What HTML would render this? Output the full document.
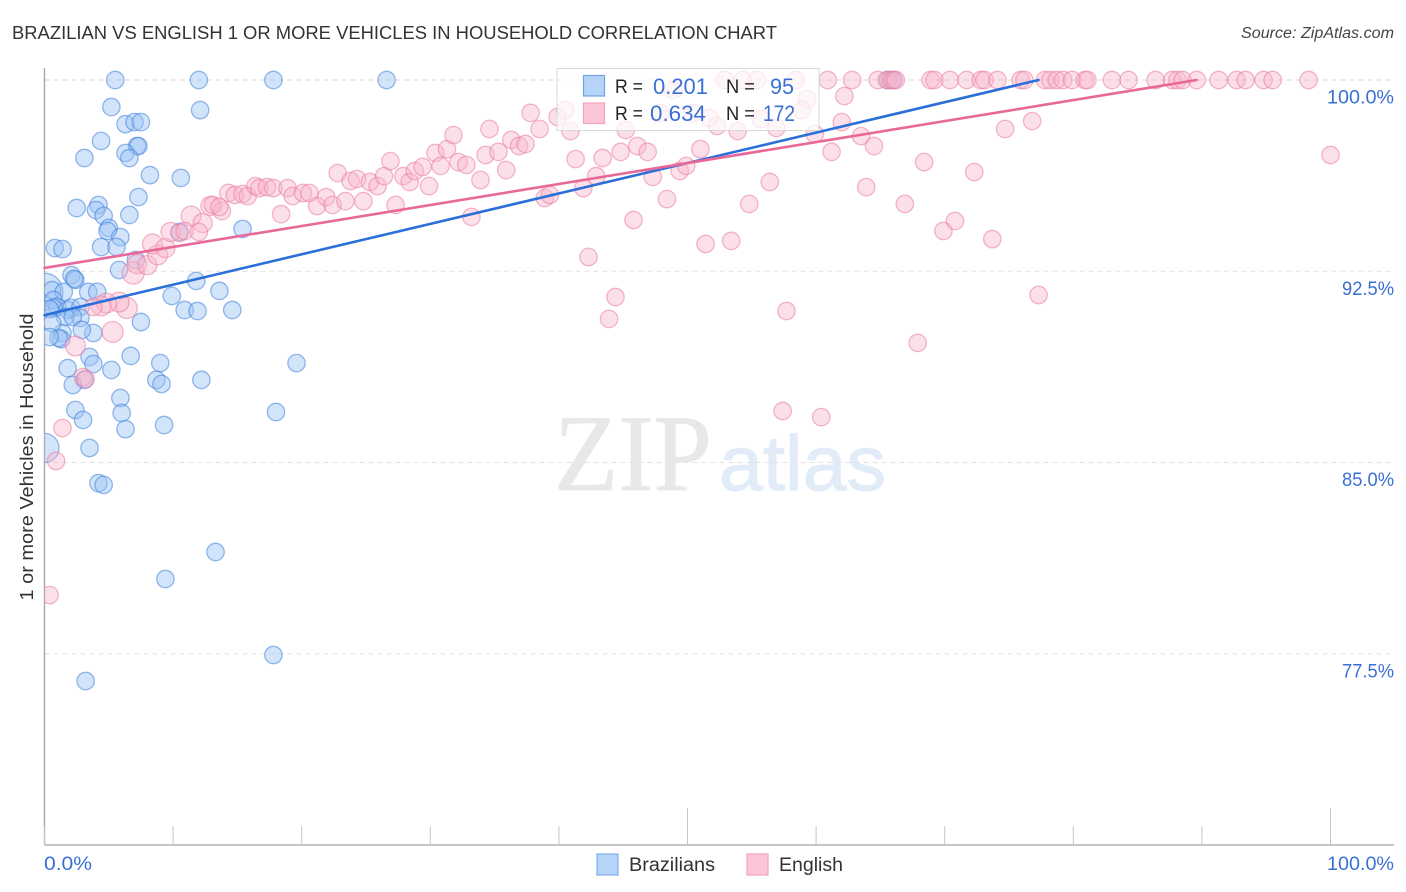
<!DOCTYPE html>
<html lang="en">
<head>
<meta charset="utf-8">
<title>Brazilian vs English 1 or More Vehicles in Household Correlation Chart</title>
<style>
html,body{margin:0;padding:0;background:#fff;}
#chart{display:block;width:1406px;height:892px;font-family:"Liberation Sans",sans-serif;}
</style>
</head>
<body>
<svg id="chart" width="1406" height="892" viewBox="0 0 1406 892" xmlns="http://www.w3.org/2000/svg">
  <defs>
    <clipPath id="plot-clip"><rect x="44.5" y="60" width="1362" height="785"/></clipPath>
  </defs>
  <rect x="0" y="0" width="1406" height="892" fill="#ffffff"/>
  <text x="12" y="39" font-size="18.5" fill="#333" textLength="765" lengthAdjust="spacingAndGlyphs">BRAZILIAN VS ENGLISH 1 OR MORE VEHICLES IN HOUSEHOLD CORRELATION CHART</text>
  <text x="1394" y="38" font-size="15.5" font-style="italic" fill="#444" text-anchor="end" textLength="153" lengthAdjust="spacingAndGlyphs">Source: ZipAtlas.com</text>

  <g>
    <text x="554" y="490" font-family="'Liberation Serif',serif" font-size="109" fill="#e8e8e8" stroke="#e8e8e8" stroke-width="0.8" textLength="158" lengthAdjust="spacingAndGlyphs">ZIP</text>
    <text x="719" y="490" font-size="78" fill="#e2ebf8" stroke="#e2ebf8" stroke-width="1" textLength="167" lengthAdjust="spacingAndGlyphs">atlas</text>
  </g>

  <g id="grid"></g>
  <g id="axes"></g>
  <g id="brazilian-points" clip-path="url(#plot-clip)"></g>
  <g id="english-points" clip-path="url(#plot-clip)"></g>
  <g id="trends"></g>

  <g>
    <rect x="557" y="68.5" width="262" height="62" fill="#ffffff" fill-opacity="0.72" stroke="#d8d8d8" stroke-width="1"/>
    <rect x="583.5" y="75.5" width="21" height="20.5" fill="#b6d3f8" stroke="#6fa2e6" stroke-width="1.2"/>
    <rect x="583.5" y="103" width="21" height="20.5" fill="#fcc6d8" stroke="#f2a3be" stroke-width="1.2"/>
    <text x="615" y="93" font-size="19" fill="#222" textLength="28" lengthAdjust="spacingAndGlyphs">R =</text>
    <text x="653" y="94" font-size="22" fill="#3a70d4" textLength="55" lengthAdjust="spacingAndGlyphs">0.201</text>
    <text x="726" y="93" font-size="19" fill="#222" textLength="29" lengthAdjust="spacingAndGlyphs">N =</text>
    <text x="770" y="94" font-size="22" fill="#3a70d4" textLength="24" lengthAdjust="spacingAndGlyphs">95</text>
    <text x="615" y="120" font-size="19" fill="#222" textLength="28" lengthAdjust="spacingAndGlyphs">R =</text>
    <text x="650" y="121" font-size="22" fill="#3a70d4" textLength="56" lengthAdjust="spacingAndGlyphs">0.634</text>
    <text x="726" y="120" font-size="19" fill="#222" textLength="29" lengthAdjust="spacingAndGlyphs">N =</text>
    <text x="763" y="121" font-size="22" fill="#3a70d4" textLength="32" lengthAdjust="spacingAndGlyphs">172</text>
  </g>

  <g>
    <g>
      <rect x="597" y="854" width="21" height="21" fill="#b6d3f8" stroke="#7fade8" stroke-width="1.2"/>
      <text x="629" y="871" font-size="19" fill="#333" textLength="86" lengthAdjust="spacingAndGlyphs">Brazilians</text>
    </g>
    <g>
      <rect x="747" y="854" width="21" height="21" fill="#fcc6d8" stroke="#f2a3be" stroke-width="1.2"/>
      <text x="779" y="871" font-size="19" fill="#333" textLength="64" lengthAdjust="spacingAndGlyphs">English</text>
    </g>
  </g>

  <text transform="translate(33,457) rotate(-90)" font-size="18.5" fill="#333" text-anchor="middle" textLength="287" lengthAdjust="spacingAndGlyphs">1 or more Vehicles in Household</text>
</svg>

<script>
// Category / tick data
const yTickValues = [100, 92.5, 85, 77.5];
const yTickLabels = ["100.0%", "92.5%", "85.0%", "77.5%"];
const xTickValues = [0, 10, 20, 30, 40, 50, 60, 70, 80, 90, 100];
const xMajorTicks = [50, 100];
const xEndLabels = ["0.0%", "100.0%"];

// Brazilians: x value (%) and y value (%)
const brazilianX = [0.0,0.0,5.5,12.0,17.8,26.6,65.6,66.0,5.2,12.1,6.3,7.0,7.5,4.4,7.2,7.3,3.1,6.3,6.6,8.2,10.6,7.3,2.5,4.2,4.0,6.6,4.6,5.0,4.9,5.9,15.4,10.5,0.8,1.4,4.4,5.6,7.1,5.8,2.1,2.4,2.3,11.8,13.6,9.9,3.4,4.1,10.9,11.9,14.6,7.5,3.8,1.4,1.3,1.1,6.7,9.0,19.6,3.5,3.8,1.8,5.2,12.2,8.7,9.1,3.1,2.2,0.6,1.5,0.7,1.0,0.7,0.4,1.8,2.1,2.8,2.8,1.6,2.2,0.6,0.4,2.9,2.4,3.0,5.9,6.0,6.3,9.3,18.0,3.5,4.2,4.6,13.3,9.4,17.8,3.2];
const brazilianY = [91.7,85.57,100,100,100,100,100,100,98.94,98.82,98.27,98.35,98.35,97.61,97.41,97.41,96.94,97.14,96.94,96.27,96.16,95.41,94.98,95.10,94.90,94.71,94.67,94.20,94.08,93.84,94.16,94.04,93.41,93.37,93.45,93.45,92.94,92.55,92.35,92.16,92.20,92.12,91.73,91.53,91.69,91.69,90.98,90.94,90.98,90.51,90.08,90.08,89.84,89.88,89.18,88.90,88.90,89.14,88.86,88.70,88.63,88.24,88.24,88.08,88.24,88.04,91.76,91.69,91.37,91.10,91.06,91.02,90.98,91.06,91.10,90.67,90.71,90.71,90.47,89.92,90.20,87.06,86.67,87.53,86.94,86.31,86.47,86.98,85.57,84.19,84.12,81.49,80.43,77.45,76.43];
// Relative sample weights; points not listed have a weight of 1
const brazilianWeights = [4.5,2.8];

// English
const englishX = [5.3,6.4,5.8,4.8,4.4,6.9,7.2,8.0,8.8,8.4,9.4,9.8,11.4,12.3,12.9,2.4,3.0,3.2,1.4,0.9,0.4,3.8,10.5,10.9,12.0,13.1,13.8,13.6,14.3,14.8,15.4,15.8,16.4,16.7,17.3,17.8,18.4,18.9,19.3,20.1,20.6,21.2,21.9,22.4,23.4,24.8,22.8,23.8,24.3,25.3,25.9,26.4,26.9,27.3,27.9,28.4,28.8,29.4,29.9,30.4,30.8,31.3,31.8,32.2,32.8,33.9,33.2,34.3,34.6,35.3,35.9,36.3,36.9,37.4,37.8,38.5,38.9,39.3,39.9,40.5,40.9,41.3,42.3,41.9,42.9,43.4,44.4,43.9,44.8,45.2,45.8,46.1,46.9,47.3,48.4,49.4,49.9,51.0,51.4,53.4,54.8,56.4,57.7,61.2,62.0,62.2,63.5,64.5,63.9,68.4,66.9,69.9,70.8,59.9,56.9,53.9,52.3,51.7,50.4,47.9,48.9,59.3,58.9,55.7,74.7,76.8,72.3,73.7,77.3,100.0,67.9,57.4,60.4,52.9,54.3,55.4,58.4,60.9,62.8,64.8,65.5,65.8,66.0,66.2,68.9,69.2,70.4,71.7,72.8,73.1,74.1,75.9,76.2,77.8,78.2,78.7,79.2,79.9,80.9,81.1,83.0,84.3,86.4,87.7,88.1,88.5,89.6,91.3,92.7,93.4,94.8,95.5,98.3];
const englishY = [90.12,91.06,91.29,91.25,91.14,92.43,92.78,92.74,93.14,93.57,93.41,94.04,94.67,94.39,95.06,89.57,88.35,88.27,86.35,85.06,79.80,91.10,94.00,94.08,94.04,95.10,94.86,95.02,95.57,95.49,95.53,95.45,95.84,95.76,95.80,95.76,94.74,95.76,95.45,95.57,95.57,95.06,95.41,95.10,95.25,95.25,96.35,96.04,96.12,96.00,95.84,96.23,96.82,95.10,96.23,96.00,96.43,96.59,95.84,97.14,96.63,97.29,97.84,96.78,96.67,96.08,94.63,97.06,98.08,97.18,96.47,97.65,97.41,97.49,98.71,98.08,95.37,95.49,98.55,98.82,98.00,96.90,93.06,95.76,96.23,96.94,91.49,90.63,97.18,98.04,94.51,97.41,97.18,96.20,95.33,96.43,96.63,97.29,93.57,93.69,95.14,96.00,90.94,97.18,98.35,99.37,97.80,97.41,95.80,96.78,95.14,94.08,94.47,97.88,98.12,98.00,98.20,98.51,98.71,98.71,99.61,99.25,98.82,98.47,98.08,98.39,96.39,93.76,91.57,97.06,89.69,87.02,86.78,100,100,100,100,100,100,100,100,100,100,100,100,100,100,100,100,100,100,100,100,100,100,100,100,100,100,100,100,100,100,100,100,100,100,100,100,100,100,100,100,100];
// Relative sample weights, first points in list; the rest have a weight of 1
const englishWeights = [1.45,1.45,1.3,1.3,1.3,1.6,1.2,1.2,1.3,1.3,1.2,1.2,1.3,1.2,1.2,1.3];

// Trend line end values
const brazilianTrendX = [0, 77.3];
const brazilianTrendY = [90.78, 100];
const englishTrendX = [0, 89.6];
const englishTrendY = [92.63, 100];

// Axis functions
const NS = "http://www.w3.org/2000/svg";
const plotLeft = 44.5, plotRight = 1394, plotBottom = 845, plotTop = 68;
const xScale = v => plotLeft + v * 12.86;
const yScale = v => 80 + (100 - v) * 25.5;
const BASE_R = 8.7;

function svgEl(tag, attrs, parent) {
  const el = document.createElementNS(NS, tag);
  for (const k in attrs) el.setAttribute(k, attrs[k]);
  parent.appendChild(el);
  return el;
}

const grid = document.getElementById("grid");
const axes = document.getElementById("axes");

yTickValues.forEach((v, i) => {
  const line = svgEl("line", {x1: plotLeft, x2: plotRight, y1: yScale(v), y2: yScale(v),
    stroke: i === 0 ? "#d4d4d4" : "#e2e2e2", "stroke-width": 1, "stroke-dasharray": "5 4"}, grid);
  
  
  const label = svgEl("text", {x: 1394, y: yScale(v) + 23.5, "font-size": 19, fill: "#3a70d4",
    "text-anchor": "end", textLength: i === 0 ? 67 : 52, lengthAdjust: "spacingAndGlyphs"}, axes);
  label.textContent = yTickLabels[i];
  
  
});

const yAxis = svgEl("line", {x1: plotLeft, x2: plotLeft, y1: plotTop, y2: plotBottom, stroke: "#a8a8a8", "stroke-width": 1.4}, axes);


const xAxis = svgEl("line", {x1: plotLeft, x2: plotRight, y1: plotBottom, y2: plotBottom, stroke: "#b4b4b4", "stroke-width": 1.4}, axes);



xTickValues.forEach(v => {
  const tall = xMajorTicks.includes(v);
  const tick = svgEl("line", {x1: xScale(v), x2: xScale(v), y1: tall ? 808 : 826, y2: plotBottom, stroke: "#c4c4c4", "stroke-width": 1}, axes);
  
  
});

const xLabelLeft = svgEl("text", {x: 44, y: 870, "font-size": 19, fill: "#3a70d4", textLength: 48, lengthAdjust: "spacingAndGlyphs"}, axes);
xLabelLeft.textContent = xEndLabels[0];


const xLabelRight = svgEl("text", {x: 1394, y: 870, "font-size": 19, fill: "#3a70d4", "text-anchor": "end", textLength: 67, lengthAdjust: "spacingAndGlyphs"}, axes);
xLabelRight.textContent = xEndLabels[1];



const brazilianGroup = document.getElementById("brazilian-points");
brazilianX.forEach((x, i) => {
  const w = brazilianWeights[i] || 1;
  const c = svgEl("circle", {cx: xScale(x), cy: yScale(brazilianY[i]), r: BASE_R * Math.sqrt(w),
    fill: "#9cc3f4", "fill-opacity": 0.45, stroke: "#3f80dc", "stroke-opacity": 0.55, "stroke-width": 1.3}, brazilianGroup);
  
  
});

const englishGroup = document.getElementById("english-points");
englishX.forEach((x, i) => {
  const w = englishWeights[i] || 1;
  const c = svgEl("circle", {cx: xScale(x), cy: yScale(englishY[i]), r: BASE_R * Math.sqrt(w),
    fill: "#f9b4cb", "fill-opacity": 0.42, stroke: "#ea7ba2", "stroke-opacity": 0.55, "stroke-width": 1.3}, englishGroup);
  
  
});

const trends = document.getElementById("trends");
const blueTrend = svgEl("line", {x1: xScale(brazilianTrendX[0]), y1: yScale(brazilianTrendY[0]), x2: xScale(brazilianTrendX[1]), y2: yScale(brazilianTrendY[1]),
  stroke: "#2b6fd8", "stroke-width": 2.6, "stroke-linecap": "round"}, trends);


const pinkTrend = svgEl("line", {x1: xScale(englishTrendX[0]), y1: yScale(englishTrendY[0]), x2: xScale(englishTrendX[1]), y2: yScale(englishTrendY[1]),
  stroke: "#e9689a", "stroke-width": 2.6, "stroke-linecap": "round"}, trends);


</script>
</body>
</html>
